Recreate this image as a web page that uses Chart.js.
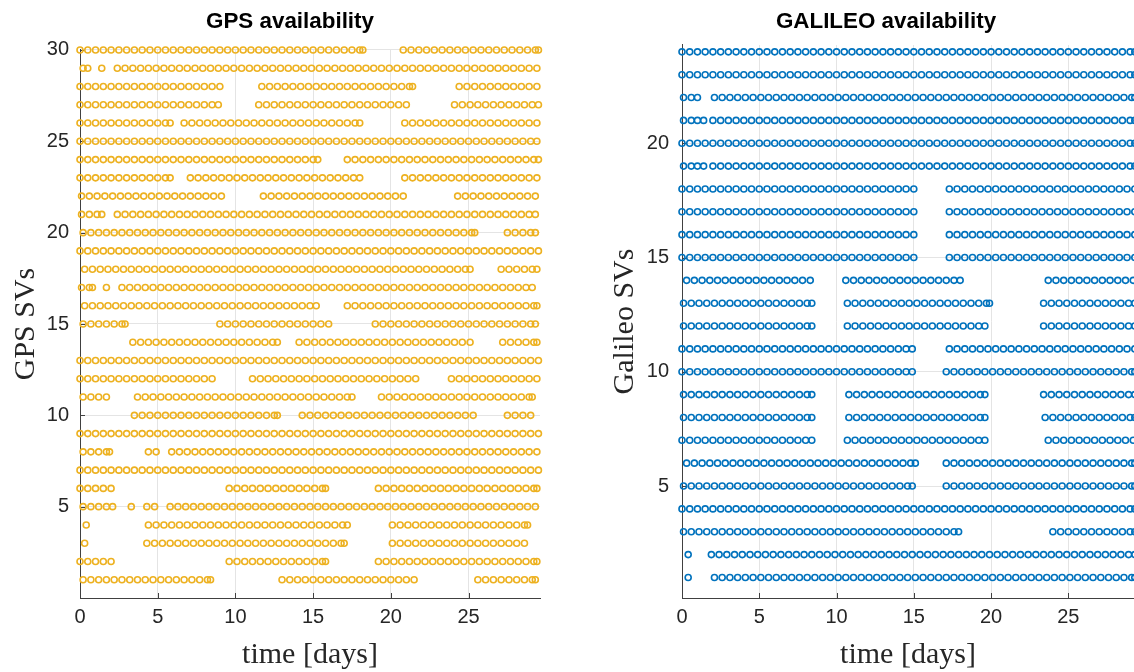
<!DOCTYPE html>
<html><head><meta charset="utf-8">
<script src="https://cdn.jsdelivr.net/npm/chart.js@4.4.1/dist/chart.umd.min.js"></script>
<style>
html,body{margin:0;padding:0;background:#fff;overflow:hidden;width:1134px;height:672px;}
#gpsWrap{position:absolute;left:0;top:0;}
#galWrap{position:absolute;left:590px;top:0;}
</style></head><body>
<div id="gpsWrap"><canvas id="gps" width="580" height="672"></canvas></div>
<div id="galWrap"><canvas id="gal" width="592" height="672"></canvas></div>
<script>
// ---------------- data ----------------
const EPOCH_STEP = 0.5; // days between plotted epochs inside a visibility window

const gpsSVs = [1,2,3,4,5,6,7,8,9,10,11,12,13,14,15,16,17,18,19,20,21,22,23,24,25,26,27,28,29,30];
// visibility windows [start, end] in days, one list per GPS SV
const gpsWindows = [
  [[0.2,8.4],[13.0,21.5],[25.6,29.3]],          // 1
  [[0,2.1],[9.6,15.8],[19.2,29.4]],             // 2
  [[0.3,0.3],[4.3,17.0],[20.1,28.7]],           // 3
  [[0.4,0.4],[4.4,17.2],[20.1,28.8]],           // 4
  [[0.2,2.1],[3.3,3.3],[4.3,4.8],[5.8,29.3]],   // 5
  [[0,2.1],[9.6,15.8],[19.2,29.4]],             // 6
  [[0,29.5]],                                   // 7
  [[0.2,1.9],[4.4,4.9],[5.9,29.4]],             // 8
  [[0,29.5]],                                   // 9
  [[3.5,12.7],[14.3,25.3],[27.5,29.1]],         // 10
  [[0.2,1.8],[3.7,17.5],[19.4,29.1]],           // 11
  [[0,8.6],[11.1,21.7],[23.9,29.5]],            // 12
  [[0,29.5]],                                   // 13
  [[3.4,12.7],[14.1,25.2],[27.2,29.4]],         // 14
  [[0.2,2.9],[9.0,16.1],[19.0,29.3]],           // 15
  [[0.3,15.2],[17.2,29.4]],                     // 16
  [[0.1,0.8],[1.7,1.7],[2.7,29.1]],             // 17
  [[0.3,25.1],[27.1,29.4]],                     // 18
  [[0,29.5]],                                   // 19
  [[0.2,25.4],[27.5,29.3]],                     // 20
  [[0.1,1.4],[2.4,29.3]],                       // 21
  [[0.1,9.1],[11.8,20.9],[24.3,29.3]],          // 22
  [[0,5.8],[7.1,18.0],[20.9,29.5]],             // 23
  [[0,15.3],[17.2,29.5]],                       // 24
  [[0,29.4]],                                   // 25
  [[0,5.8],[6.7,18.0],[20.9,29.5]],             // 26
  [[0,8.9],[11.5,21.0],[24.1,29.5]],            // 27
  [[0,9.1],[11.7,21.4],[24.4,29.5]],            // 28
  [[0.2,0.5],[1.4,1.4],[2.4,29.5]],             // 29
  [[0,18.2],[20.8,29.5]]                        // 30
];

const galSVs = [1,2,3,4,5,6,7,8,9,10,11,12,13,14,15,16,17,18,19,20,21,22,23,24];
const galWindows = [
  [[0.4,0.4],[2.1,29.3]],                       // 1
  [[0.4,0.4],[1.9,29.3]],                       // 2
  [[0.1,17.9],[24.0,29.3]],                     // 3
  [[0,29.3]],                                   // 4
  [[0.1,14.9],[17.1,29.3]],                     // 5
  [[0.3,15.1],[17.1,29.3]],                     // 6
  [[0,8.4],[10.7,19.6],[23.7,29.3]],            // 7
  [[0.1,8.4],[10.8,19.6],[23.5,29.3]],          // 8
  [[0.1,8.4],[10.8,19.6],[23.4,29.3]],          // 9
  [[0,14.9],[17.1,29.3]],                       // 10
  [[0,14.9],[17.3,29.3]],                       // 11
  [[0.1,8.4],[10.7,19.6],[23.4,29.3]],          // 12
  [[0.1,8.4],[10.7,19.9],[23.4,29.3]],          // 13
  [[0.3,8.4],[10.6,18.0],[23.7,29.3]],          // 14
  [[0,15.1],[17.3,29.3]],                       // 15
  [[0,15.1],[17.3,29.3]],                       // 16
  [[0,15.1],[17.3,29.3]],                       // 17
  [[0,15.1],[17.3,29.3]],                       // 18
  [[0.1,1.0],[1.4,1.4],[2.0,29.3]],             // 19
  [[0,29.3]],                                   // 20
  [[0.1,1.0],[1.4,1.4],[2.0,29.3]],             // 21
  [[0.1,1.0],[2.1,29.3]],                       // 22
  [[0,29.3]],                                   // 23
  [[0,29.3]]                                    // 24
];

const xTickValues = [0,5,10,15,20,25];
const gpsYTickValues = [5,10,15,20,25,30];
const galYTickValues = [5,10,15,20];

// ---------------- build points from the windows ----------------
function expand(svs, windows) {
  const pts = [];
  svs.forEach((sv, i) => {
    windows[i].forEach(([a, b]) => {
      let last = a;
      for (let t = a; t <= b + 1e-9; t += EPOCH_STEP) { pts.push({x: +t.toFixed(3), y: sv}); last = t; }
      if (b - last > 0.15) pts.push({x: b, y: sv});
    });
  });
  return pts;
}

const inwardTicks = {
  id: 'inwardTicks',
  beforeDatasetsDraw(chart) {
    const {ctx, chartArea: a, scales: {x, y}} = chart;
    ctx.save();
    ctx.strokeStyle = '#404040';
    ctx.lineWidth = 1;
    ctx.beginPath();
    x.ticks.forEach(t => { const px = Math.round(x.getPixelForValue(t.value)) + 0.5; ctx.moveTo(px, a.bottom); ctx.lineTo(px, a.bottom - 5); });
    y.ticks.forEach(t => { const py = Math.round(y.getPixelForValue(t.value)) + 0.5; ctx.moveTo(a.left, py); ctx.lineTo(a.left + 5, py); });
    ctx.stroke();
    ctx.restore();
  }
};

const TICK_FONT = {family: "'Liberation Sans', Arial, sans-serif", size: 20};
const LABEL_FONT = {family: "'Liberation Serif', 'Times New Roman', serif", size: 30, lineHeight: 1};

function makeChart(canvasId, cfg) {
  return new Chart(document.getElementById(canvasId), {
    type: 'scatter',
    data: {
      datasets: [{
        data: expand(cfg.svs, cfg.windows),
        pointStyle: 'circle',
        pointRadius: 3,
        pointBorderWidth: 1.6,
        pointBackgroundColor: 'rgba(0,0,0,0)',
        pointBorderColor: cfg.color,
        pointHoverRadius: 3,
        clip: false
      }]
    },
    options: {
      responsive: false,
      animation: false,
      devicePixelRatio: 1,
      layout: {padding: 0},
      plugins: {
        legend: {display: false},
        tooltip: {enabled: false},
        title: {
          display: true,
          text: cfg.title,
          fullSize: true,
          color: '#000',
          font: {family: "'Liberation Sans', Arial, sans-serif", size: 22.4, weight: 'bold', lineHeight: 1.2},
          padding: {top: 8, bottom: cfg.titleBottom}
        }
      },
      scales: {
        x: {
          type: 'linear',
          min: 0,
          max: cfg.xMax,
          afterBuildTicks: s => { s.ticks = xTickValues.map(v => ({value: v})); },
          afterFit: s => { s.height = 74; },
          grid: {color: '#e4e4e4', drawTicks: false},
          border: {display: true, color: '#404040', width: 1},
          ticks: {font: TICK_FONT, color: '#262626', padding: 7, maxRotation: 0},
          title: {display: true, text: 'time [days]', font: LABEL_FONT, color: '#262626', padding: {top: 0, bottom: 2}}
        },
        y: {
          type: 'linear',
          position: 'left',
          min: cfg.yMin,
          max: cfg.yMax,
          afterBuildTicks: s => { s.ticks = cfg.yTicks.map(v => ({value: v})); },
          afterFit: s => { s.width = cfg.yWidth; },
          grid: {color: '#e4e4e4', drawTicks: false},
          border: {display: true, color: '#404040', width: 1},
          ticks: {font: TICK_FONT, color: '#262626', padding: cfg.yTickPad},
          title: {display: true, text: cfg.yTitle, font: LABEL_FONT, color: '#262626', padding: {top: cfg.yTitlePad, bottom: 0}}
        },
        // empty right-hand margin so the axes end where the reference's do
        margin: {
          type: 'linear',
          position: 'right',
          grid: {display: false},
          border: {display: false},
          ticks: {display: false},
          afterFit: s => { s.width = cfg.rightMargin; }
        }
      }
    },
    plugins: [inwardTicks]
  });
}

makeChart('gps', {
  svs: gpsSVs, windows: gpsWindows, color: '#EDB120',
  title: 'GPS availability', titleBottom: 15.1,
  yTitle: 'GPS SVs', yTitlePad: 11, yWidth: 80, yTickPad: 11,
  yMin: 0, yMax: 30, yTicks: gpsYTickValues,
  xMax: 29.6, rightMargin: 40
});

makeChart('gal', {
  svs: galSVs, windows: galWindows, color: '#0072BD',
  title: 'GALILEO availability', titleBottom: 10.1,
  yTitle: 'Galileo SVs', yTitlePad: 20, yWidth: 92, yTickPad: 13,
  yMin: 0.1, yMax: 24.3, yTicks: galYTickValues,
  xMax: 29.25, rightMargin: 48
});
</script>
</body></html>
